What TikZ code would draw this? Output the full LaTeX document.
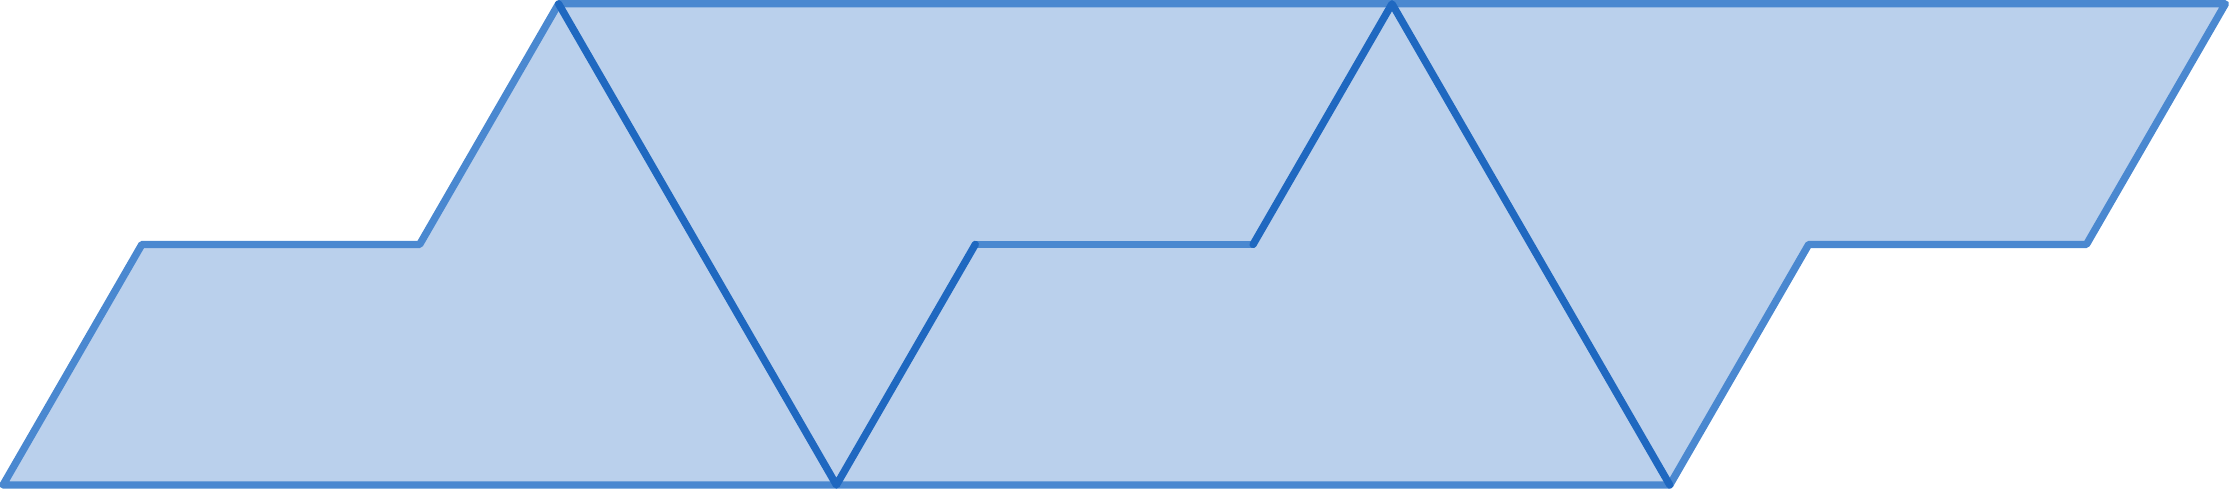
\documentclass[tikz,border=0pt]{standalone}
\definecolor{tilefill}{HTML}{BAD0EC}
\definecolor{edgelight}{HTML}{4A88D0}
\definecolor{edgedark}{HTML}{1F68C0}
\begin{document}
\begin{tikzpicture}[x=1cm, y=1.7320508cm, line width=1.5pt, line cap=round, line join=round]
        \useasboundingbox (-0.0216,-0.0208) rectangle (16.0334,2.0159);
        \fill[tilefill] (0,0) -- (1,1) -- (3,1) -- (4,2) -- (16,2) -- (15,1) -- (13,1) -- (12,0) -- cycle;
        \draw[edgelight] (0,0) -- (1,1) -- (3,1) -- (4,2) -- (16,2) -- (15,1) -- (13,1) -- (12,0) -- cycle;
        \draw[edgelight] (7,1) -- (9,1);
        \draw[edgedark] (4,2) -- (6,0) -- (7,1);
        \draw[edgedark] (9,1) -- (10,2) -- (12,0);
    \end{tikzpicture}
\end{document}
